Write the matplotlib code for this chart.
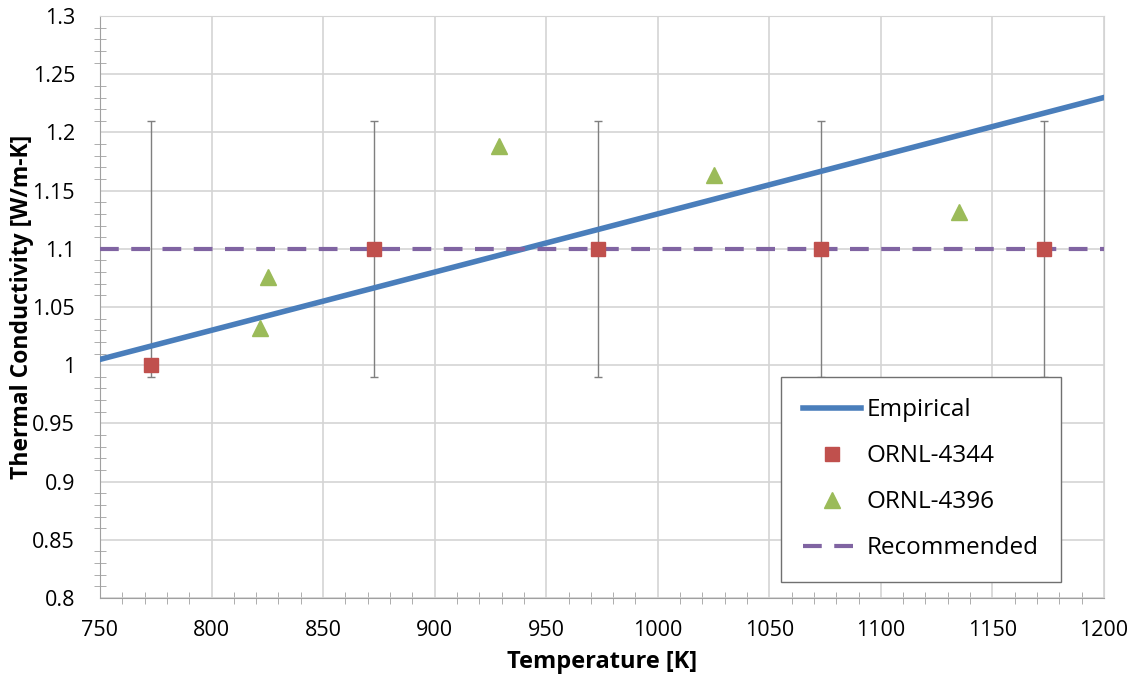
import numpy as np
import matplotlib.pyplot as plt
from matplotlib.ticker import MultipleLocator

# Empirical correlation (straight line)
emp_T = [750, 1200]
emp_k = [1.005, 1.23]

# ORNL-4344 data with error bars
ornl4344_T = [773, 873, 973, 1073, 1173]
ornl4344_k = [1.0, 1.1, 1.1, 1.1, 1.1]
ornl4344_lo = [0.99, 0.99, 0.99, 0.99, 0.99]
ornl4344_hi = [1.21, 1.21, 1.21, 1.21, 1.21]

# ORNL-4396 data
ornl4396_T = [821.5, 825.5, 929, 1025, 1135]
ornl4396_k = [1.032, 1.076, 1.188, 1.163, 1.132]

# recommended value
rec_T = [750, 1200]
rec_k = [1.1, 1.1]

plt.rcParams['font.family'] = ['Open Sans', 'DejaVu Sans']

fig = plt.figure(figsize=(11.31, 6.79), dpi=100)
ax = fig.add_axes([0.0884, 0.1193, 0.8877, 0.8571])

grid_c = '#D4D4D4'
ax.grid(True, which='major', color=grid_c, linewidth=1.2)
ax.set_axisbelow(True)

ax.plot(emp_T, emp_k, color='#4A7EBB', linewidth=4, label='Empirical', zorder=3)

yerr = [np.array(ornl4344_k) - np.array(ornl4344_lo),
        np.array(ornl4344_hi) - np.array(ornl4344_k)]
ax.errorbar(ornl4344_T, ornl4344_k, yerr=yerr, fmt='none', ecolor='#7F7F7F',
            elinewidth=1, capsize=3, capthick=1, zorder=2)
ax.plot(ornl4344_T, ornl4344_k, 's', color='#C0504D', markersize=10,
        label='ORNL-4344', zorder=5)
ax.plot(ornl4396_T, ornl4396_k, '^', color='#9BBB59', markersize=11,
        label='ORNL-4396', zorder=5)
ax.plot(rec_T, rec_k, '--', color='#8064A2', linewidth=3, dashes=(4.5, 3),
        label='Recommended', zorder=4)

ax.set_xlim(750, 1200)
ax.set_ylim(0.8, 1.3)
ax.xaxis.set_major_locator(MultipleLocator(50))
ax.xaxis.set_minor_locator(MultipleLocator(10))
ax.yaxis.set_minor_locator(MultipleLocator(0.01))
yt = np.arange(0.8, 1.301, 0.05)
ax.set_yticks(yt)
ax.set_yticklabels([('%.2f' % v).rstrip('0').rstrip('.') for v in yt])

ax.tick_params(which='both', direction='inout', color='#A0A0A0', labelsize=15.5,
               top=False, right=False)
ax.tick_params(which='major', length=0)
ax.tick_params(axis='x', which='major', pad=16)
ax.tick_params(axis='y', which='major', pad=18)
ax.tick_params(which='minor', length=9)

for s in ['top', 'right']:
    ax.spines[s].set_color(grid_c)
for s in ['left', 'bottom']:
    ax.spines[s].set_color('#A0A0A0')

ax.set_xlabel('Temperature [K]', fontsize=17, fontweight='bold', labelpad=6)
ax.set_ylabel('Thermal Conductivity [W/m-K]', fontsize=16.5, fontweight='bold')
ax.yaxis.set_label_coords(-0.066, 0.5)

leg = ax.legend(loc='lower left', bbox_to_anchor=(0.678, 0.0275), fontsize=17.5,
                fancybox=False, edgecolor='#707070', framealpha=1,
                labelspacing=0.9, handlelength=2.4, handletextpad=0.25,
                borderpad=0.9, borderaxespad=0)
leg.get_frame().set_linewidth(1)

fig.savefig('out.png', dpi=100)
